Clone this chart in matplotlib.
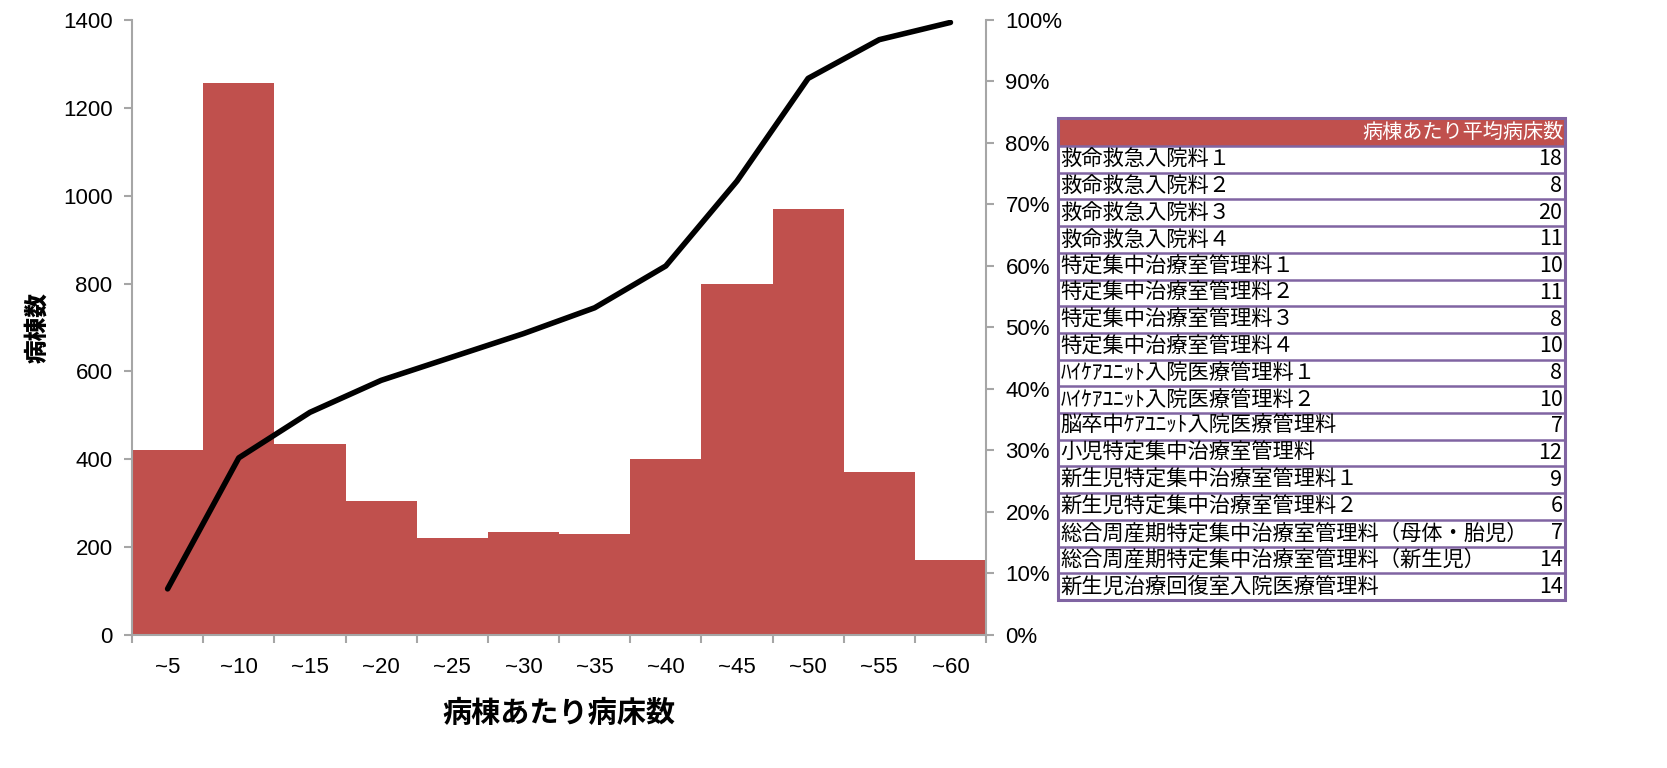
import matplotlib
matplotlib.use('Agg')
import matplotlib.pyplot as plt
from matplotlib.patches import Rectangle
from matplotlib.ticker import FuncFormatter, MultipleLocator
import numpy as np

plt.rcParams['font.family'] = ['Liberation Sans', 'Noto Sans CJK JP', 'DejaVu Sans']
JP = ['Noto Sans CJK JP', 'DejaVu Sans']

# data
bins = ['~5', '~10', '~15', '~20', '~25', '~30', '~35', '~40', '~45', '~50', '~55', '~60']
wards = [420, 1257, 435, 305, 220, 235, 230, 400, 800, 970, 370, 170]
cum_pct = [7.5, 28.8, 36.2, 41.4, 45.2, 49.0, 53.2, 60.0, 73.8, 90.5, 96.8, 99.6]

table_names = ['救命救急入院料１', '救命救急入院料２', '救命救急入院料３', '救命救急入院料４',
               '特定集中治療室管理料１', '特定集中治療室管理料２', '特定集中治療室管理料３',
               '特定集中治療室管理料４', 'ﾊｲｹｱﾕﾆｯﾄ入院医療管理料１', 'ﾊｲｹｱﾕﾆｯﾄ入院医療管理料２',
               '脳卒中ｹｱﾕﾆｯﾄ入院医療管理料', '小児特定集中治療室管理料', '新生児特定集中治療室管理料１',
               '新生児特定集中治療室管理料２', '総合周産期特定集中治療室管理料（母体・胎児）',
               '総合周産期特定集中治療室管理料（新生児）', '新生児治療回復室入院医療管理料']
table_vals = [18, 8, 20, 11, 10, 11, 8, 10, 8, 10, 7, 12, 9, 6, 7, 14, 14]
table_header = '病棟あたり平均病床数'

RED = '#C0504D'
GRAY = '#A6A6A6'
PURPLE = '#8064A2'

fig = plt.figure(figsize=(16.67, 7.68), dpi=100)
ax = fig.add_axes([0.0792, 0.1732, 0.5123, 0.8008])
x = np.arange(len(bins))
ax.bar(x, wards, width=1.0, color=RED, zorder=2)
ax.set_xlim(-0.5, len(bins) - 0.5)
ax.set_ylim(0, 1400)
ax.yaxis.set_major_locator(MultipleLocator(200))
ax.set_xticks(x)
ax.set_xticklabels(bins)
ax.set_xticks(np.arange(len(bins) + 1) - 0.5, minor=True)
ax.tick_params(axis='x', which='major', length=0, pad=16, labelsize=16)
ax.tick_params(axis='x', which='minor', length=6, color=GRAY, width=1.5)
ax.tick_params(axis='y', length=6, color=GRAY, width=1.5, labelsize=16, pad=8)
for s in ['top', 'right']:
    ax.spines[s].set_visible(False)
for s in ['left', 'bottom']:
    ax.spines[s].set_color(GRAY)
    ax.spines[s].set_linewidth(1.5)
ax.set_ylabel('病棟数', family=JP, fontsize=17, fontweight='heavy', labelpad=10)
ax.set_xlabel('病棟あたり病床数', family=JP, fontsize=21, fontweight='bold', labelpad=14)

ax2 = ax.twinx()
ax2.plot(x, cum_pct, color='black', lw=4, solid_capstyle='round', zorder=3)
ax2.set_ylim(0, 100)
ax2.yaxis.set_major_locator(MultipleLocator(10))
ax2.yaxis.set_major_formatter(FuncFormatter(lambda v, p: f'{v:.0f}%'))
ax2.tick_params(axis='y', length=6, color=GRAY, width=1.5, labelsize=16, pad=8)
for s in ['top', 'left', 'bottom']:
    ax2.spines[s].set_visible(False)
ax2.spines['right'].set_color(GRAY)
ax2.spines['right'].set_linewidth(1.5)

# table on the right
tax = fig.add_axes([0.6347, 0.2188, 0.3041, 0.6276])
tax.set_xlim(0, 1)
n = len(table_names)
hdr_h = 1.05
tax.set_ylim(n + hdr_h, 0)
tax.axis('off')
tax.add_patch(Rectangle((0, 0), 1, hdr_h, facecolor=RED, edgecolor='none'))
tax.text(0.997, hdr_h / 2, table_header, ha='right', va='center', color='white',
         family=JP, fontsize=14.5)
for i, (name, val) in enumerate(zip(table_names, table_vals)):
    yc = hdr_h + i + 0.5
    tax.text(0.005, yc, name, ha='left', va='center', family=JP, fontsize=15.3)
    tax.text(0.995, yc, str(val), ha='right', va='center', family=JP, fontsize=15.5)
    tax.plot([0, 1], [hdr_h + i, hdr_h + i], color=PURPLE, lw=1.8)
tax.add_patch(Rectangle((0, 0), 1, n + hdr_h, facecolor='none', edgecolor=PURPLE,
                        lw=2.2, clip_on=False))

fig.savefig('out.png', dpi=100)
plt.close()
